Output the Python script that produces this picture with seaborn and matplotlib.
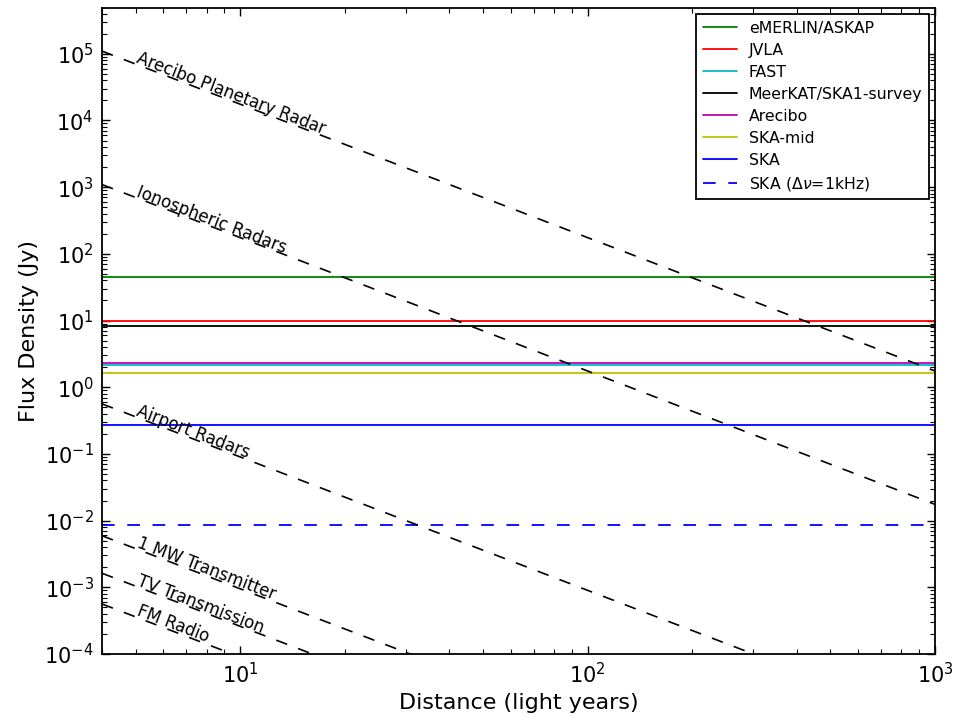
import numpy as np
import pandas as pd
import seaborn as sns
import matplotlib
matplotlib.use("Agg")
from matplotlib import pyplot as plt

# receiver sensitivities (Jy), horizontal lines
instruments = ["eMERLIN/ASKAP", "JVLA", "FAST", "MeerKAT/SKA1-survey",
               "Arecibo", "SKA-mid", "SKA", r"SKA ($\Delta\nu$=1kHz)"]
sensitivity = [44.6, 10.0, 2.13, 8.3, 2.34, 1.64, 0.269, 0.0087]
inst_colors = ["g", "r", "c", "k", "m", "y", "b", "b"]
inst_dashed = [False, False, False, False, False, False, False, True]

# transmitters: flux density at 1 light year (Jy), falls off as 1/d^2
transmitters = ["Arecibo Planetary Radar", "Ionospheric Radars", "Airport Radars",
                "1 MW Transmitter", "TV Transmission", "FM Radio"]
flux_at_1ly = [1.75e6, 1.75e4, 9.0, 0.095, 0.026, 0.009]

distance = np.array([4.0, 1000.0])
label_distance = 5.0

sns.set_style("ticks", {
    "xtick.direction": "in", "ytick.direction": "in",
    "xtick.top": True, "ytick.right": True,
    "axes.edgecolor": "black", "text.color": "black",
    "axes.labelcolor": "black", "xtick.color": "black", "ytick.color": "black",
})
plt.rcParams["font.family"] = ["DejaVu Sans"]
plt.rcParams["axes.unicode_minus"] = False

fig = plt.figure(figsize=(9.54, 7.22), dpi=100)
ax = fig.add_axes([102 / 954, 1 - 654 / 722, (935 - 102) / 954, (654 - 8) / 722])
ax.set_xscale("log")
ax.set_yscale("log")
ax.set_xlim(4, 1000)
ax.set_ylim(1e-4, 4.85e5)

for name, s, c, dashed in zip(instruments, sensitivity, inst_colors, inst_dashed):
    line = pd.DataFrame({"distance": distance, "flux": [s, s]})
    sns.lineplot(data=line, x="distance", y="flux", color=c, lw=1.3,
                 label=name, ax=ax, dashes=False)
    if dashed:
        ax.lines[-1].set_dashes((7, 7))

for name, a in zip(transmitters, flux_at_1ly):
    line = pd.DataFrame({"distance": distance, "flux": a / distance ** 2})
    sns.lineplot(data=line, x="distance", y="flux", color="k", lw=1.2,
                 ax=ax, legend=False)
    ax.lines[-1].set_dashes((7, 7))
    p1 = ax.transData.transform((distance[0], a / distance[0] ** 2))
    p2 = ax.transData.transform((distance[1], a / distance[1] ** 2))
    angle = np.degrees(np.arctan2(p2[1] - p1[1], p2[0] - p1[0]))
    ax.text(label_distance, a / label_distance ** 2 * 1.05, name, fontsize=12,
            rotation=angle, rotation_mode="anchor", ha="left", va="baseline")

ax.set_xlim(4, 1000)
ax.set_ylim(1e-4, 4.85e5)
ax.set_xlabel("Distance (light years)", fontsize=16)
ax.set_ylabel("Flux Density (Jy)", fontsize=16)
ax.tick_params(which="major", length=6, width=1, labelsize=15, pad=6)
ax.tick_params(which="minor", length=3.5, width=0.8)
for sp in ax.spines.values():
    sp.set_linewidth(1.3)
    sp.set_visible(True)

leg = ax.legend(loc="upper right", fontsize=11.3, labelspacing=0.45,
                handlelength=2.2, handletextpad=0.75, borderpad=0.4,
                borderaxespad=0.4, fancybox=False, framealpha=1)
leg.get_frame().set_edgecolor("black")
leg.get_frame().set_linewidth(1.3)

fig.savefig("out.png", dpi=100)
